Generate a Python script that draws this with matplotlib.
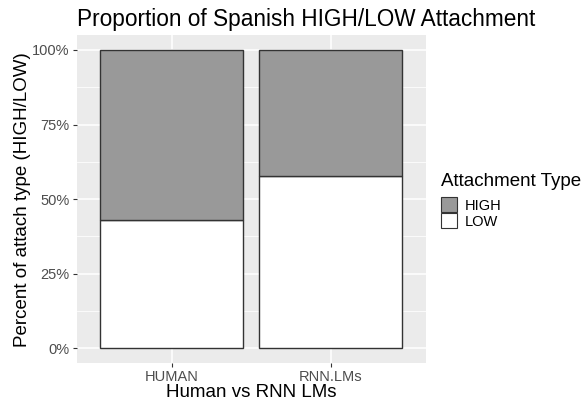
import matplotlib
matplotlib.use("Agg")
import matplotlib.pyplot as plt
from matplotlib.patches import Patch
import numpy as np

plt.rcParams['font.family'] = ['Liberation Sans', 'DejaVu Sans']

# data
groups = ["HUMAN", "RNN.LMs"]
low = [0.43, 0.578]
high = [1 - v for v in low]
types = ["HIGH", "LOW"]
fill_colors = {"HIGH": "#999999", "LOW": "#FFFFFF"}

W, H = 585, 403
fig = plt.figure(figsize=(W / 100, H / 100), dpi=100)

# panel in pixel coords
px_l, px_r, px_t, px_b = 76.7, 425.7, 35, 363.3
ax = fig.add_axes([px_l / W, 1 - px_b / H, (px_r - px_l) / W, (px_b - px_t) / H])
ax.set_facecolor("#EBEBEB")

x = np.arange(1, len(groups) + 1)
ax.bar(x, low, width=0.9, color=fill_colors["LOW"], edgecolor="#333333", linewidth=1.0, zorder=3)
ax.bar(x, high, bottom=low, width=0.9, color=fill_colors["HIGH"], edgecolor="#333333", linewidth=1.0, zorder=3)

ax.set_xlim(0.4, 2.6)
ax.set_ylim(-0.05, 1.05)

yt = [0, 0.25, 0.5, 0.75, 1.0]
ax.set_yticks(yt)
ax.set_yticklabels([f"{int(v*100)}%" for v in yt])
ax.set_yticks([0.125, 0.375, 0.625, 0.875], minor=True)
ax.set_xticks(x)
ax.set_xticklabels(groups)

ax.grid(True, which="major", color="white", linewidth=1.1, zorder=0)
ax.grid(True, which="minor", axis="y", color="white", linewidth=0.55, zorder=0)
ax.set_axisbelow(True)
for s in ax.spines.values():
    s.set_visible(False)

ax.tick_params(axis="both", which="major", length=3, width=0.8, color="#333333",
               labelcolor="#4D4D4D", labelsize=10.5, pad=2)
ax.tick_params(axis="both", which="minor", length=0)

ax.set_xlabel("Human vs RNN LMs", fontsize=13.5, labelpad=0)
ax.set_ylabel("Percent of attach type (HIGH/LOW)", fontsize=13.5, labelpad=1)
fig.text(px_l / W, 1 - 19.5 / H, "Proportion of Spanish HIGH/LOW Attachment", fontsize=16.3,
         ha="left", va="center")

handles = [Patch(facecolor=fill_colors[t], edgecolor="#333333", linewidth=0.8) for t in types]
leg = fig.legend(handles, types, title="Attachment Type", loc="upper left",
                 bbox_to_anchor=(431 / W, 1 - 163 / H), frameon=False, fontsize=10.5,
                 title_fontsize=13.5, handlelength=1.1, handleheight=1.2,
                 handletextpad=0.5, labelspacing=0.05, borderpad=0.2)
leg._legend_box.align = "left"
leg._legend_box.sep = 5

fig.savefig("out.png", dpi=100)
